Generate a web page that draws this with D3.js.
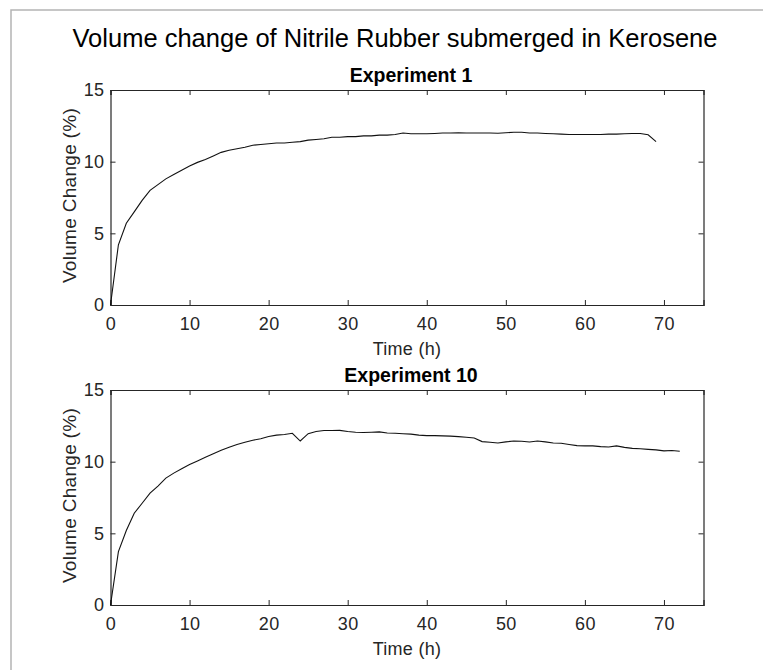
<!DOCTYPE html>
<html>
<head>
<meta charset="utf-8">
<script src="https://cdn.jsdelivr.net/npm/d3@7.9.0/dist/d3.min.js"></script>
<style>
  body { margin: 0; background: #fff; }
  svg, svg text { font-family: "Liberation Sans", Arial, Helvetica, sans-serif; }
  .tick text { font-size: 18px; fill: #262626; letter-spacing: 0.4px; }
  .tick line, .domain { stroke: #262626; }
</style>
</head>
<body>
<svg id="fig" width="763" height="670"></svg>
<script>
// experiment 1 readings (hourly)
const exp1Time = [0,1,2,3,4,5,6,7,8,9,10,11,12,13,14,15,16,17,18,19,20,21,22,23,24,25,26,27,28,29,
  30,31,32,33,34,35,36,37,38,39,40,41,42,43,44,45,46,47,48,49,50,51,52,53,54,55,56,57,58,59,
  60,61,62,63,64,65,66,67,68,69];
const exp1Volume = [0,4.2,5.7,6.5,7.3,8.0,8.4,8.8,9.1,9.4,9.7,9.95,10.15,10.4,10.65,10.8,10.9,11.0,11.15,11.2,
  11.25,11.3,11.3,11.35,11.4,11.5,11.55,11.6,11.7,11.7,11.75,11.75,11.8,11.8,11.85,11.85,11.9,12.0,11.95,11.95,
  11.95,11.97,12.0,12.0,12.02,12.0,12.0,12.0,12.0,11.98,12.02,12.05,12.05,12.0,12.0,11.97,11.95,11.92,11.9,11.9,
  11.9,11.9,11.9,11.92,11.92,11.95,11.97,11.97,11.88,11.4];

// experiment 10 readings (hourly)
const exp10Time = [0,1,2,3,4,5,6,7,8,9,10,11,12,13,14,15,16,17,18,19,20,21,22,23,24,25,26,27,28,29,
  30,31,32,33,34,35,36,37,38,39,40,41,42,43,44,45,46,47,48,49,50,51,52,53,54,55,56,57,58,59,
  60,61,62,63,64,65,66,67,68,69,70,71,72];
const exp10Volume = [0,3.72,5.2,6.4,7.1,7.8,8.3,8.85,9.2,9.5,9.8,10.05,10.3,10.55,10.8,11.0,11.2,11.35,11.5,11.6,
  11.75,11.85,11.9,11.98,11.44,11.95,12.1,12.17,12.17,12.18,12.1,12.05,12.03,12.05,12.08,12.0,11.98,11.95,11.92,11.85,
  11.82,11.82,11.8,11.78,11.75,11.7,11.65,11.4,11.35,11.3,11.38,11.44,11.42,11.37,11.44,11.38,11.3,11.28,11.2,11.12,
  11.1,11.1,11.05,11.02,11.1,11.0,10.93,10.9,10.86,10.82,10.75,10.78,10.73];

const xTicks = [0, 10, 20, 30, 40, 50, 60, 70];
const yTicks = [0, 5, 10, 15];

const svg = d3.select('#fig');
const left = 110.5, right = 703.5, plotH = 215;

// figure frame (top and left edge only visible)
svg.append('path')
  .attr('d', 'M11,670V10H763')
  .attr('fill', 'none')
  .attr('stroke', '#b4b4b4')
  .attr('stroke-width', 1.5);

svg.append('text')
  .attr('x', 395).attr('y', 47)
  .attr('text-anchor', 'middle')
  .attr('font-size', 25.5)
  .attr('fill', '#000')
  .text('Volume change of Nitrile Rubber submerged in Kerosene');

const panels = [
  { title: 'Experiment 1', time: exp1Time, vol: exp1Volume, top: 90 },
  { title: 'Experiment 10', time: exp10Time, vol: exp10Volume, top: 390 }
];

panels.forEach(p => {
  const x = d3.scaleLinear().domain([0, 75]).range([left, right]);
  const y = d3.scaleLinear().domain([0, 15]).range([p.top + plotH, p.top]);
  const g = svg.append('g');

  g.append('g')
    .attr('transform', `translate(0,${p.top + plotH})`)
    .call(d3.axisBottom(x).tickValues(xTicks).tickSize(-5).tickPadding(12));
  g.append('g')
    .attr('transform', `translate(0,${p.top})`)
    .call(d3.axisTop(x).tickValues(xTicks).tickSize(-5).tickFormat(''));
  g.append('g')
    .attr('transform', `translate(${left},0)`)
    .call(d3.axisLeft(y).tickValues(yTicks).tickSize(-5).tickPadding(6));
  g.append('g')
    .attr('transform', `translate(${right},0)`)
    .call(d3.axisRight(y).tickValues(yTicks).tickSize(-5).tickFormat(''));
  g.selectAll('.domain').attr('stroke-width', 1.2);

  const line = d3.line()
    .x((d, i) => x(p.time[i]))
    .y(d => y(d));
  g.append('path')
    .datum(p.vol)
    .attr('d', line)
    .attr('fill', 'none')
    .attr('stroke', '#111')
    .attr('stroke-width', 1.1);

  g.append('text')
    .attr('x', (left + right) / 2 + 4).attr('y', p.top - 8)
    .attr('text-anchor', 'middle')
    .attr('font-size', 19.5)
    .attr('font-weight', 'bold')
    .attr('fill', '#000')
    .text(p.title);

  g.append('text')
    .attr('x', (left + right) / 2).attr('y', p.top + plotH + 50)
    .attr('text-anchor', 'middle')
    .attr('font-size', 18)
    .attr('letter-spacing', 0.3)
    .attr('fill', '#262626')
    .text('Time (h)');

  g.append('text')
    .attr('transform', `translate(76,${p.top + plotH / 2 - 2}) rotate(-90)`)
    .attr('text-anchor', 'middle')
    .attr('font-size', 19)
    .attr('letter-spacing', 0.3)
    .attr('fill', '#262626')
    .text('Volume Change (%)');
});
</script>
</body>
</html>
